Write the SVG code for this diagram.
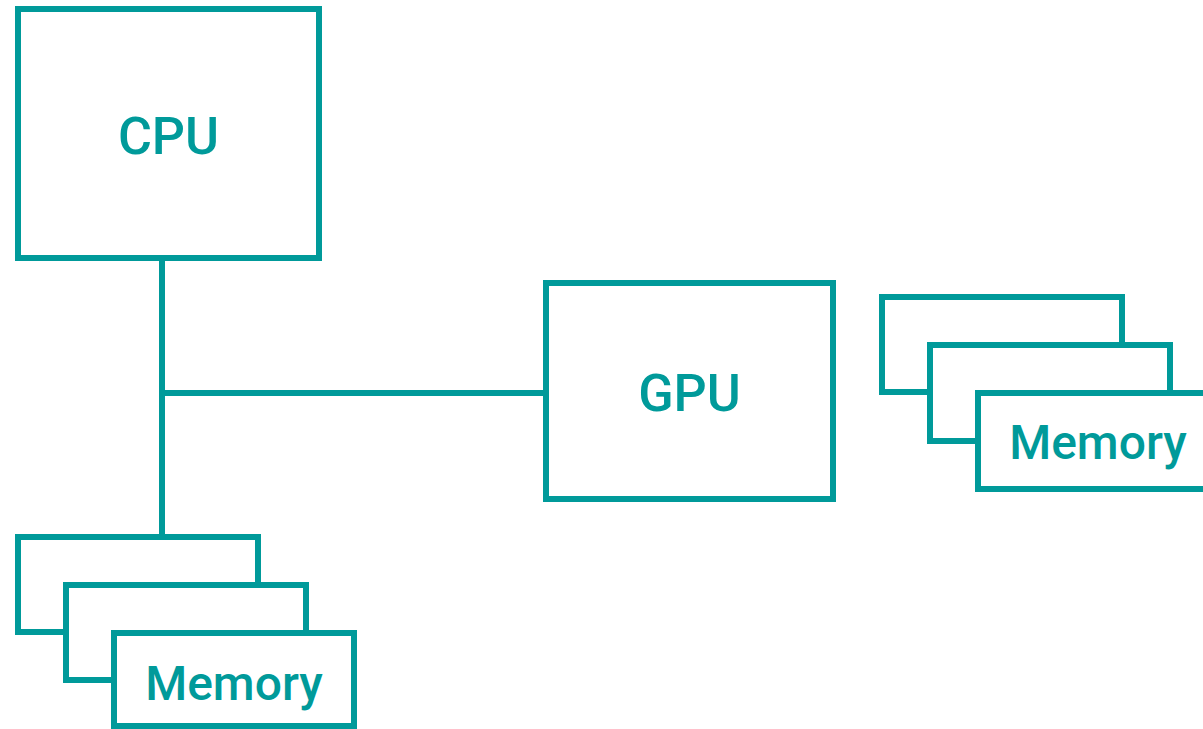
<svg xmlns="http://www.w3.org/2000/svg" width="1203" height="729" viewBox="0 0 1203 729">
  <style>
    .box { fill: #ffffff; stroke: #009a9a; stroke-width: 6; }
    .wire { fill: none; stroke: #009a9a; stroke-width: 6; }
    .big { font-family: Roboto, "Liberation Sans", sans-serif; font-size: 52px; font-weight: 500; fill: #009a9a; text-anchor: middle; }
    .mem { font-family: Roboto, "Liberation Sans", sans-serif; font-size: 48px; font-weight: 500; fill: #009a9a; text-anchor: middle; }
  </style>
  <rect width="1203" height="729" fill="#ffffff"/>

  <!-- bus lines -->
  <g id="connectors">
    <line class="wire" x1="162" y1="258" x2="162" y2="537"/>
    <line class="wire" x1="162" y1="393" x2="546" y2="393"/>
  </g>

  <g id="cpu">
    <rect class="box" x="18" y="9" width="301" height="249"/>
    <text class="big" x="168.5" y="154">CPU</text>
  </g>

  <g id="gpu">
    <rect class="box" x="546" y="283" width="287" height="216"/>
    <text class="big" x="689.5" y="411">GPU</text>
  </g>

  <!-- host memory stack -->
  <g id="cpu-memory">
    <rect class="box" x="18" y="537" width="240" height="95"/>
    <rect class="box" x="66" y="585" width="240" height="95"/>
    <rect class="box" x="114" y="633" width="240" height="93"/>
    <text class="mem" x="234" y="700">Memory</text>
  </g>

  <!-- device memory stack -->
  <g id="gpu-memory">
    <rect class="box" x="882" y="297" width="240" height="95"/>
    <rect class="box" x="930" y="345" width="240" height="96"/>
    <rect class="box" x="978" y="393" width="240" height="96"/>
    <text class="mem" x="1098" y="459">Memory</text>
  </g>
</svg>
